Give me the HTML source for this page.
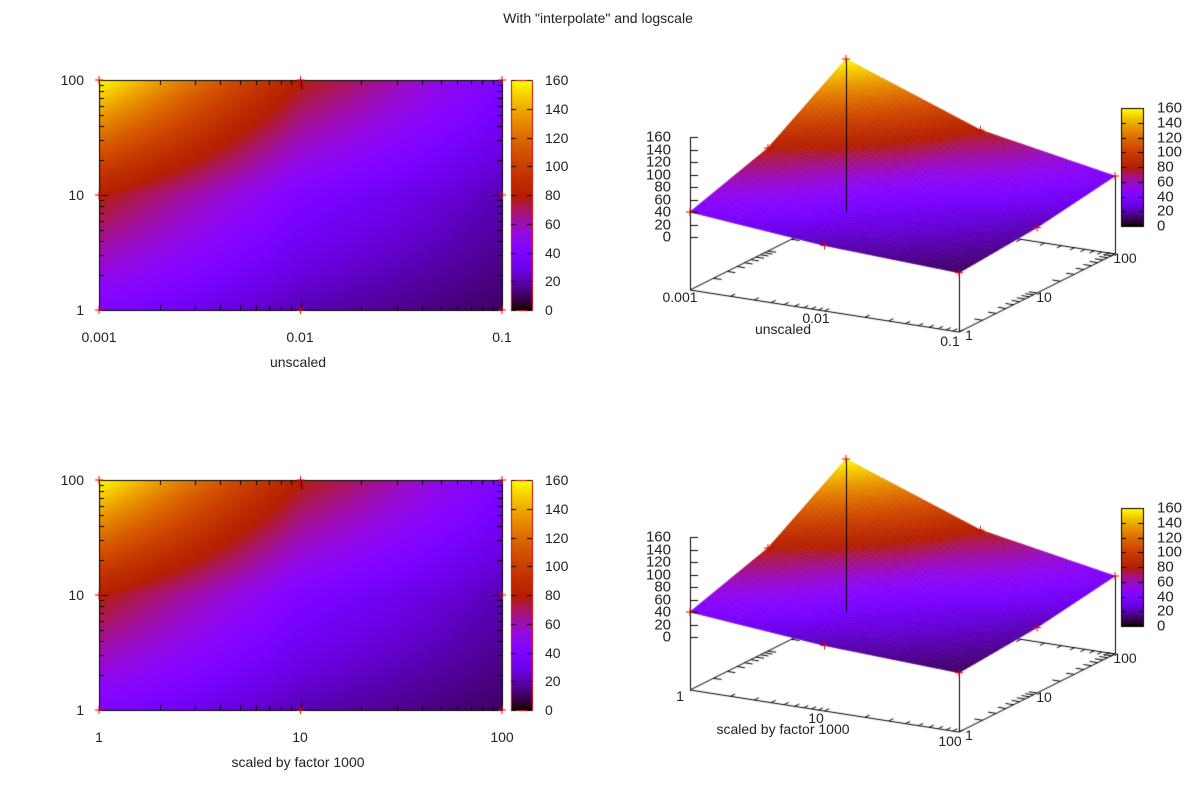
<!DOCTYPE html>
<html><head><meta charset="utf-8"><style>
body{margin:0;background:#fff;width:1200px;height:800px;overflow:hidden;position:relative;font-family:"Liberation Sans",sans-serif;}
canvas{position:absolute;left:0;top:0}
.t{position:absolute;font-size:14px;color:#222;white-space:nowrap;line-height:14px}
.r{transform:translate(-100%,-50%)}
.c{transform:translate(-50%,-50%)}
.l{transform:translate(0,-50%)}
.z{font-size:15px;line-height:13px}
</style></head><body>
<canvas id="cv" width="1200" height="800"></canvas>
<div class="t c" style="left:598px;top:18px">With "interpolate" and logscale</div>

<div class="t r" style="left:84px;top:80px">100</div>
<div class="t r" style="left:84px;top:195px">10</div>
<div class="t r" style="left:84px;top:310px">1</div>
<div class="t c" style="left:99px;top:337px">0.001</div>
<div class="t c" style="left:300px;top:337px">0.01</div>
<div class="t c" style="left:502px;top:337px">0.1</div>
<div class="t c" style="left:298px;top:362px">unscaled</div>
<div class="t r" style="left:84px;top:480px">100</div>
<div class="t r" style="left:84px;top:595px">10</div>
<div class="t r" style="left:84px;top:710px">1</div>
<div class="t c" style="left:99px;top:737px">1</div>
<div class="t c" style="left:300px;top:737px">10</div>
<div class="t c" style="left:502px;top:737px">100</div>
<div class="t c" style="left:298px;top:762px">scaled by factor 1000</div>

<div id="txt"></div>
<script>
const cv=document.getElementById('cv'),ctx=cv.getContext('2d');
const txt=document.getElementById('txt');
function lab(s,x,y,cls){const d=document.createElement('div');d.className='t '+cls;d.style.left=x+'px';d.style.top=y+'px';d.textContent=s;txt.appendChild(d);}
function pal(z){let g=Math.max(0,Math.min(1,z/160));let r=Math.sqrt(g),gg=g*g*g,b=Math.sin(2*Math.PI*g);if(b<0)b=0;return [Math.round(r*255),Math.round(gg*255),Math.round(b*255)];}
const G=[[40,80,160],[20,40,80],[10,20,40]];
function Z(u,v){let x=u*2,y=v*2;let i=Math.min(1,Math.floor(x)),j=Math.min(1,Math.floor(y));let fx=x-i,fy=y-j;
return G[i][j]*(1-fx)*(1-fy)+G[i+1][j]*fx*(1-fy)+G[i][j+1]*(1-fx)*fy+G[i+1][j+1]*fx*fy;}
function line(x1,y1,x2,y2,c,w){ctx.strokeStyle=c||'#000';ctx.lineWidth=w||1;ctx.beginPath();ctx.moveTo(x1,y1);ctx.lineTo(x2,y2);ctx.stroke();}
function plus(x,y){line(x-4,y,x+4,y,'#d00');line(x,y-4,x,y+4,'#d00');}
function heat(oy){
  const X0=99,X1=502,Y0=80+oy,Y1=310+oy,W=X1-X0,H=Y1-Y0;
  const img=ctx.createImageData(W,H);
  for(let py=0;py<H;py++)for(let px=0;px<W;px++){const u=px/(W-1),v=1-py/(H-1);const c=pal(Z(u,v));const k=(py*W+px)*4;img.data[k]=c[0];img.data[k+1]=c[1];img.data[k+2]=c[2];img.data[k+3]=255;}
  ctx.putImageData(img,X0,Y0);
  ctx.strokeStyle='#000';ctx.lineWidth=1;ctx.strokeRect(X0+.5,Y0+.5,W,H);
  for(let d=0;d<2;d++)for(let m=1;m<=10;m++){const f=(d+Math.log10(m))/2;
    const x=Math.round(X0+f*W)+.5,y=Math.round(Y1-f*H)+.5,L=(m==1||m==10)?9:5;
    line(x,Y0,x,Y0+L);line(x,Y1,x,Y1-L);line(X0,y,X0+L,y);line(X1,y,X1-L,y);}
  [[0,0],[.5,0],[1,0],[0,.5],[1,.5],[0,1],[.5,1],[1,1]].forEach(p=>plus(X0+p[0]*W,Y1-p[1]*H));
  const cx=511,cw=21;
  for(let py=0;py<H;py++){const c=pal(160*(1-py/(H-1)));ctx.fillStyle=`rgb(${c})`;ctx.fillRect(cx,Y0+py,cw,1);}
  ctx.strokeRect(cx+.5,Y0+.5,cw,H);
  for(let k=0;k<=8;k++){const y=Math.round(Y1-k*H/8)+.5;line(cx,y,cx+5,y);line(cx+cw,y,cx+cw-5,y);lab(String(k*20),545,Y1-k*H/8,'l');}
}
heat(0);heat(400);
function surf(oy,xl,yl,xlab){
  const A=[690,290+oy],B=[959,332+oy],D=[846,212+oy],lift=53,s=0.625;
  const P=(u,v,z)=>[A[0]+u*(B[0]-A[0])+v*(D[0]-A[0]),A[1]+u*(B[1]-A[1])+v*(D[1]-A[1])-(z==null?0:lift+s*z)];
  const C=P(1,1);
  line(A[0],A[1],D[0],D[1]);line(D[0],D[1],C[0],C[1]);
  for(let d=0;d<2;d++)for(let m=2;m<=10;m++){const f=(d+Math.log10(m))/2;
    let p=P(0,f),q=P(.03,f);line(p[0],p[1],q[0],q[1]);
    p=P(f,1);q=P(f,.97);line(p[0],p[1],q[0],q[1]);}
  const N=60,quads=[];
  for(let i=0;i<N;i++)for(let j=0;j<N;j++){const u0=i/N,u1=(i+1)/N,v0=j/N,v1=(j+1)/N;
    quads.push({d:(v0+v1)/2-0.6*(u0+u1)/2,pts:[P(u0,v0,Z(u0,v0)),P(u1,v0,Z(u1,v0)),P(u1,v1,Z(u1,v1)),P(u0,v1,Z(u0,v1))],z:Z((u0+u1)/2,(v0+v1)/2)});}
  quads.sort((a,b)=>b.d-a.d);
  quads.forEach(q=>{const c=pal(q.z);ctx.fillStyle=ctx.strokeStyle=`rgb(${c})`;ctx.lineWidth=0.7;ctx.beginPath();q.pts.forEach((p,k)=>k?ctx.lineTo(p[0],p[1]):ctx.moveTo(p[0],p[1]));ctx.closePath();ctx.fill();ctx.stroke();});
  let t=P(0,1,160);line(D[0]+.5,D[1],t[0]+.5,t[1]);
  t=P(1,1,Z(1,1));line(C[0]+.5,C[1],C[0]+.5,t[1]);
  t=P(1,0,Z(1,0));line(B[0]+.5,B[1],B[0]+.5,t[1]);
  const z0=A[1]-lift;line(A[0]+.5,A[1],A[0]+.5,z0-100);
  for(let k=0;k<=8;k++){const y=Math.round(z0-k*12.5)+.5;line(A[0],y,A[0]+8,y);lab(String(k*20),671,z0-k*12.5,'r z');}
  line(A[0],A[1],B[0],B[1]);line(B[0],B[1],C[0],C[1]);
  for(let d=0;d<2;d++)for(let m=2;m<=10;m++){const f=(d+Math.log10(m))/2;
    let p=P(f,0),q=P(f,.03);line(p[0],p[1],q[0],q[1]);
    p=P(1,f),q=P(.97,f);line(p[0],p[1],q[0],q[1]);}
  [[0,0],[.5,0],[1,0],[0,.5],[1,.5],[.5,1],[1,1],[0,1]].forEach(p=>{const q=P(p[0],p[1],Z(p[0],p[1]));plus(q[0],q[1]);});
  const cx=1121,cw=22,Y0=108+oy,Y1=226+oy,H=Y1-Y0;
  for(let py=0;py<H;py++){const c=pal(160*(1-py/(H-1)));ctx.fillStyle=`rgb(${c})`;ctx.fillRect(cx,Y0+py,cw,1);}
  ctx.strokeStyle='#000';ctx.lineWidth=1;ctx.strokeRect(cx+.5,Y0+.5,cw,H);
  for(let k=0;k<=8;k++){const y=Math.round(Y1-k*H/8)+.5;line(cx,y,cx+5,y);line(cx+cw,y,cx+cw-5,y);lab(String(k*20),1157,Y1-k*H/8,'l z');}
  xl.forEach(a=>lab(a[0],a[1],a[2]+oy,'c'));
  yl.forEach(a=>lab(a[0],a[1],a[2]+oy,'c'));
  lab(xlab,783,329+oy,'c');
}
surf(0,[["0.001",680,297],["0.01",816,318],["0.1",950,341]],[["1",969,335],["10",1044,297],["100",1125,258]],"unscaled");
surf(400,[["1",680,296],["10",816,318],["100",950,341]],[["1",969,335],["10",1044,297],["100",1125,258]],"scaled by factor 1000");
</script>
</body></html>
